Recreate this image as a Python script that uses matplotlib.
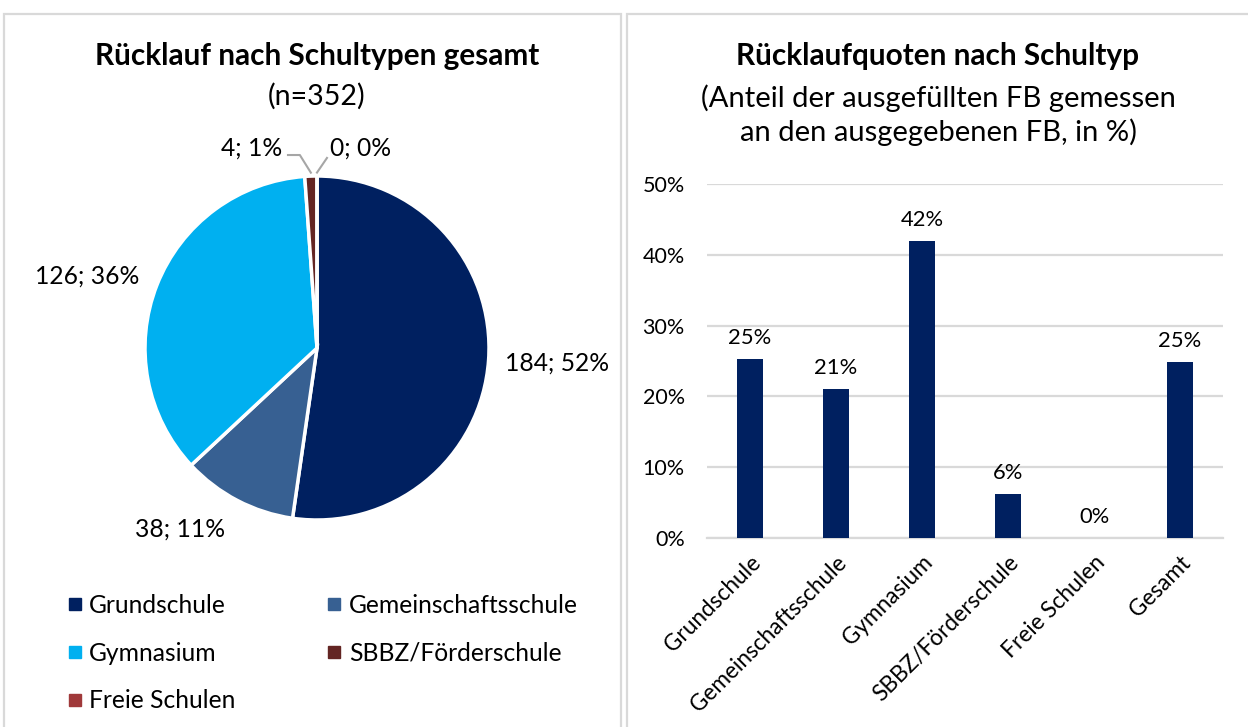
import numpy as np
import matplotlib
matplotlib.use("Agg")
import matplotlib.pyplot as plt
from matplotlib.lines import Line2D
from matplotlib.patches import Rectangle

plt.rcParams['font.family'] = ['Lato', 'DejaVu Sans']

# --- data ---
pie_labels = ["Grundschule", "Gemeinschaftsschule", "Gymnasium", "SBBZ/Förderschule", "Freie Schulen"]
pie_counts = [184, 38, 126, 4, 0]
pie_colors = ["#002060", "#376092", "#00B0F0", "#632523", "#A0393A"]

bar_cats = ["Grundschule", "Gemeinschaftsschule", "Gymnasium", "SBBZ/Förderschule", "Freie Schulen", "Gesamt"]
bar_vals = [25.3, 21.1, 42.0, 6.2, 0.0, 24.9]
bar_color = "#002060"

W, H = 1248, 727
fig = plt.figure(figsize=(W / 100, H / 100), dpi=100)

def fx(px):
    return px / W

def fy(py):
    return 1 - py / H

txt = "#000000"
grey = "#D9D9D9"
fs_left = 17.7
fs_right = 15.5

# panel borders
fig.patches.append(Rectangle((fx(4), fy(740)), fx(617), 726 / H,
                             transform=fig.transFigure, fill=False, ec=grey, lw=1.6))
fig.patches.append(Rectangle((fx(627), fy(740)), fx(640), 726 / H,
                             transform=fig.transFigure, fill=False, ec=grey, lw=1.6))

# ---------------- left: pie ----------------
fig.text(fx(317), fy(56), "Rücklauf nach Schultypen gesamt", ha="center", va="center",
         fontsize=21.4, fontweight="bold", color=txt)
fig.text(fx(317), fy(96), "(n=352)", ha="center", va="center", fontsize=20.5, color=txt)

axp = fig.add_axes([fx(145), fy(520), fx(344), 344 / H])
wedges, _ = axp.pie(pie_counts, colors=pie_colors, startangle=90, counterclock=False,
                    wedgeprops=dict(edgecolor="white", linewidth=2.5))
axp.set_xlim(-1, 1)
axp.set_ylim(-1, 1)
axp.set_aspect("equal")
axp.axis("off")

total = sum(pie_counts)
# label radius / angle tweak per slice (Excel best-fit look)
lab_r = [1.40, 1.32, 1.40, None, None]
lab_da = [0.5, -9.5, 4.0, 0, 0]
lead = "#A6A6A6"
cum = 0
for i, c in enumerate(pie_counts):
    mid = 90 - 360 * (cum + c / 2) / total
    cum += c
    s = f"{c}; {round(100 * c / total)}%"
    if lab_r[i] is not None:
        a = np.deg2rad(mid + lab_da[i])
        axp.text(lab_r[i] * np.cos(a), lab_r[i] * np.sin(a), s, ha="center", va="center",
                 fontsize=fs_left, color=txt)
    else:
        a = np.deg2rad(mid)
        ex, ey = np.cos(a), np.sin(a)
        if i == 3:
            axp.plot([ex, ex - 0.064, ex - 0.133], [ey + 0.02, 1.122, 1.122],
                     color=lead, lw=1.5, clip_on=False)
            axp.text(ex - 0.167, 1.163, s, ha="right", va="center", fontsize=fs_left, color=txt)
        else:
            axp.plot([ex, ex + 0.058], [ey + 0.02, 1.105], color=lead, lw=1.5, clip_on=False)
            axp.text(ex + 0.076, 1.163, s, ha="left", va="center", fontsize=fs_left, color=txt)

# legend filled row by row like Excel
order = [0, 2, 4, 1, 3]
handles = [Line2D([], [], marker="s", ls="none", color=pie_colors[k], markersize=8) for k in order]
fig.legend(handles, [pie_labels[k] for k in order], loc="upper left",
           bbox_to_anchor=(fx(66), fy(594)), ncol=2, frameon=False, fontsize=fs_left,
           handletextpad=0.25, columnspacing=3.65, labelspacing=1.0, handlelength=0.7,
           borderpad=0, borderaxespad=0)

# ---------------- right: bars ----------------
fig.text(fx(938), fy(56), "Rücklaufquoten nach Schultyp", ha="center", va="center",
         fontsize=21.4, fontweight="bold", color=txt)
fig.text(fx(938), fy(115), "(Anteil der ausgefüllten FB gemessen\nan den ausgegebenen FB, in %)",
         ha="center", va="center", fontsize=21, color=txt, linespacing=1.3)

axb = fig.add_axes([fx(707), fy(538), fx(516), 354 / H])
x = np.arange(len(bar_cats))
axb.bar(x, bar_vals, width=0.31, color=bar_color, zorder=3)
for xi, v in zip(x, bar_vals):
    axb.annotate(f"{round(v)}%", (xi, v), xytext=(0, 8), textcoords="offset points",
                 ha="center", va="bottom", fontsize=fs_right + 0.3, color=txt)
axb.set_xlim(-0.5, len(bar_cats) - 0.5)
axb.set_ylim(0, 50)
axb.set_yticks(np.arange(0, 51, 10))
axb.set_yticklabels([f"{t}%" for t in range(0, 51, 10)], fontsize=fs_right, color=txt)
axb.yaxis.grid(True, color=grey, lw=1.6, zorder=0)
axb.set_axisbelow(True)
axb.set_xticks(x)
axb.set_xticklabels(bar_cats, rotation=45, ha="right", rotation_mode="anchor",
                    fontsize=16.3, color=txt)
axb.tick_params(axis="y", length=0, pad=16)
axb.tick_params(axis="x", length=0, pad=10)
for sp in axb.spines.values():
    sp.set_visible(False)
axb.spines["bottom"].set_visible(True)
axb.spines["bottom"].set_color(grey)
axb.spines["bottom"].set_linewidth(1.6)

fig.savefig("out.png", dpi=100)
